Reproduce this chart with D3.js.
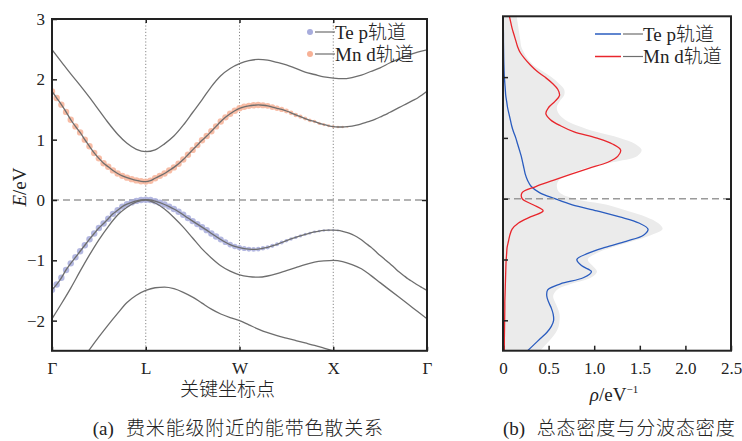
<!DOCTYPE html>
<html lang="zh">
<head>
<meta charset="UTF-8" />
<title>能带色散与态密度</title>
<style>
  html, body { margin: 0; background: #fff; }
  svg text { font-family: "Liberation Serif", "Noto Sans CJK SC", serif; fill: #222; }
</style>
</head>
<body>
<svg id="chart" width="742" height="441"></svg>
<script src="https://cdn.jsdelivr.net/npm/d3@7"></script>
<script>
// ---- (a) band structure data, k path Γ-L-W-X-Γ (0..4) ----
const kLabels = ["Γ", "L", "W", "X", "Γ"];
const kFine = d3.range(81).map(i => i * 0.05);
const kCoarse = d3.range(41).map(i => i * 0.1);

const bandTop = [2.49, 2.29, 2.09, 1.90, 1.70, 1.49, 1.28, 1.09, 0.94, 0.84,
  0.80, 0.83, 0.93, 1.06, 1.24, 1.45, 1.66, 1.88, 2.06, 2.18,
  2.26, 2.31, 2.33, 2.32, 2.28, 2.24, 2.18, 2.12, 2.08, 2.04,
  2.02, 2.01, 2.03, 2.07, 2.13, 2.19, 2.27, 2.34, 2.40, 2.45, 2.49];

// Mn d projected band
const bandMn = [1.80, 1.69, 1.58, 1.46, 1.33, 1.22, 1.12, 1.00, 0.89, 0.78,
  0.69, 0.61, 0.55, 0.49, 0.44, 0.40, 0.37, 0.345, 0.325, 0.31,
  0.305, 0.32, 0.36, 0.40, 0.44, 0.49, 0.54, 0.60, 0.67, 0.75,
  0.83, 0.91, 0.99, 1.06, 1.14, 1.22, 1.30, 1.37, 1.43, 1.48,
  1.52, 1.545, 1.56, 1.57, 1.575, 1.57, 1.56, 1.54, 1.52, 1.50,
  1.475, 1.445, 1.41, 1.38, 1.35, 1.32, 1.30, 1.27, 1.25, 1.23,
  1.215, 1.21, 1.21, 1.215, 1.225, 1.24, 1.26, 1.285, 1.31, 1.34,
  1.375, 1.41, 1.45, 1.49, 1.53, 1.57, 1.61, 1.65, 1.69, 1.745, 1.80];
const mnWeight = [1, 1, 1, 1, 1, 1, 1, 1, 1, 1,
  1, 1, 1, 1, 1, 1, 1, 1, 1, 1,
  1, 1, 1, 1, 1, 1, 1, 1, 1, 1,
  1, 1, 1, 1, 1, 1, 1, 1, 1, 1,
  1, 1, 1, 1, 1, 0.97, 0.93, 0.9, 0.86, 0.82,
  0.78, 0.74, 0.7, 0.66, 0.62, 0.58, 0.55, 0.52, 0.49, 0.46,
  0.44, 0.42, 0.4, 0.3, 0, 0, 0, 0, 0, 0,
  0, 0, 0, 0, 0, 0, 0, 0, 0, 0, 0];

// Te p projected band
const bandTe = [-1.49, -1.40, -1.29, -1.16, -1.05, -0.95, -0.85, -0.75, -0.65, -0.555,
  -0.465, -0.39, -0.31, -0.23, -0.17, -0.11, -0.07, -0.04, -0.015, 0.0,
  0.005, 0.0, -0.02, -0.045, -0.075, -0.11, -0.15, -0.195, -0.245, -0.30,
  -0.35, -0.40, -0.45, -0.50, -0.555, -0.605, -0.655, -0.70, -0.74, -0.77,
  -0.79, -0.805, -0.815, -0.82, -0.815, -0.80, -0.785, -0.76, -0.735, -0.705,
  -0.675, -0.645, -0.62, -0.595, -0.57, -0.55, -0.53, -0.515, -0.505, -0.50,
  -0.50, -0.505, -0.52, -0.54, -0.57, -0.61, -0.66, -0.72, -0.78, -0.85,
  -0.92, -0.985, -1.05, -1.12, -1.19, -1.25, -1.31, -1.36, -1.41, -1.455, -1.50];
const teWeight = [1, 1, 1, 1, 1, 1, 1, 1, 1, 1,
  1, 1, 1, 1, 1, 1, 1, 1, 1, 1,
  1, 1, 1, 1, 1, 1, 1, 1, 1, 1,
  1, 1, 1, 1, 1, 1, 0.95, 0.9, 0.88, 0.85,
  0.82, 0.8, 0.78, 0.75, 0.72, 0.7, 0.67, 0.65, 0.62, 0.6,
  0.57, 0.55, 0.52, 0.5, 0.48, 0.46, 0.44, 0.42, 0.4, 0.38,
  0.36, 0.3, 0.2, 0, 0, 0, 0, 0, 0, 0,
  0, 0, 0, 0, 0, 0, 0, 0, 0, 0, 0];

const bandV2 = [-1.97, -1.72, -1.46, -1.18, -0.91, -0.66, -0.44, -0.25, -0.12, -0.03,
  0.0, -0.05, -0.15, -0.29, -0.45, -0.63, -0.81, -0.96, -1.09, -1.18,
  -1.24, -1.27, -1.28, -1.26, -1.22, -1.17, -1.12, -1.07, -1.03, -1.01,
  -1.0, -1.02, -1.07, -1.14, -1.25, -1.37, -1.49, -1.61, -1.73, -1.85, -1.97];

// lowest band, only Γ..X (below the window elsewhere)
const bandV3 = [-3.4, -3.15, -2.92, -2.70, -2.48, -2.27, -2.07, -1.88, -1.70, -1.58,
  -1.50, -1.455, -1.445, -1.47, -1.53, -1.61, -1.71, -1.81, -1.89, -1.95,
  -2.0, -2.07, -2.14, -2.2, -2.25, -2.29, -2.33, -2.37, -2.41, -2.455, -2.5];

// ---- (b) density of states, E from -2.5 to 3.0 step 0.1 ----
const dosE = d3.range(56).map(i => -2.5 + i * 0.1);
const dosTotal = [0.41, 0.47, 0.53, 0.58, 0.61, 0.62, 0.62, 0.60, 0.57, 0.55,
  0.59, 0.75, 0.96, 1.03, 0.98, 0.93, 1.02, 1.20, 1.42, 1.62,
  1.75, 1.70, 1.57, 1.36, 1.14, 0.78, 0.62, 0.59, 0.61, 0.72,
  0.90, 1.20, 1.47, 1.52, 1.45, 1.28, 1.02, 0.82, 0.68, 0.61,
  0.59, 0.62, 0.67, 0.67, 0.61, 0.53, 0.43, 0.33, 0.27, 0.23,
  0.20, 0.19, 0.18, 0.17, 0.16, 0.15];
const dosTe = [0.27, 0.34, 0.41, 0.48, 0.53, 0.555, 0.55, 0.53, 0.50, 0.48,
  0.49, 0.63, 0.88, 0.97, 0.86, 0.81, 0.93, 1.12, 1.35, 1.54,
  1.59, 1.49, 1.28, 1.03, 0.76, 0.57, 0.40, 0.31, 0.27, 0.245,
  0.23, 0.215, 0.20, 0.18, 0.16, 0.14, 0.115, 0.095, 0.08, 0.065,
  0.05, 0.04, 0.03, 0.025, 0.02, 0.015, 0.012, 0.01, 0.008, 0.007,
  0.006, 0.005, 0.005, 0.004, 0.004, 0.004];
const dosMn = [0.015, 0.015, 0.015, 0.016, 0.017, 0.018, 0.019, 0.02, 0.02, 0.022,
  0.024, 0.026, 0.028, 0.03, 0.032, 0.035, 0.04, 0.045, 0.06, 0.075,
  0.10, 0.17, 0.30, 0.44, 0.33, 0.21, 0.21, 0.36, 0.55, 0.74,
  0.94, 1.15, 1.26, 1.29, 1.20, 1.02, 0.78, 0.63, 0.52, 0.47,
  0.50, 0.57, 0.62, 0.60, 0.54, 0.46, 0.37, 0.30, 0.24, 0.19,
  0.16, 0.14, 0.12, 0.10, 0.085, 0.07];

const grayLine = "#6e6e6e";
const teColor = "#a7acdc";
const mnColor = "#f7b196";
const blue = "#2a5cbf";
const red = "#e8262c";

const svg = d3.select("#chart");

// ================= (a) =================
const xa = d3.scaleLinear().domain([0, 4]).range([52, 427]);
const ya = d3.scaleLinear().domain([-2.5, 3]).range([350.8, 19]);

svg.append("clipPath").attr("id", "clipA")
  .append("rect").attr("x", 52).attr("y", 19).attr("width", 375).attr("height", 331.8);

const ga = svg.append("g");

ga.selectAll(".vline").data([1, 2, 3]).join("line")
  .attr("x1", d => xa(d)).attr("x2", d => xa(d))
  .attr("y1", ya(3)).attr("y2", ya(-2.5))
  .attr("stroke", "#888").attr("stroke-width", 1).attr("stroke-dasharray", "1.2,2");

ga.append("line")
  .attr("x1", xa(0)).attr("x2", xa(4)).attr("y1", ya(0)).attr("y2", ya(0))
  .attr("stroke", "#9a9a9a").attr("stroke-width", 1.5).attr("stroke-dasharray", "7,4");

const plotA = ga.append("g").attr("clip-path", "url(#clipA)");

const dotsMn = kFine.map((k, i) => ({ k, e: bandMn[i], w: mnWeight[i] })).filter(d => d.w > 0);
const dotsTe = kFine.map((k, i) => ({ k, e: bandTe[i], w: teWeight[i] })).filter(d => d.w > 0);

plotA.selectAll(".mn").data(dotsMn).join("circle")
  .attr("cx", d => xa(d.k)).attr("cy", d => ya(d.e)).attr("r", d => 3.2 * d.w)
  .attr("fill", mnColor).attr("fill-opacity", 0.85);
plotA.selectAll(".te").data(dotsTe).join("circle")
  .attr("cx", d => xa(d.k)).attr("cy", d => ya(d.e)).attr("r", d => 3.2 * d.w)
  .attr("fill", teColor).attr("fill-opacity", 0.85);

const bandLine = d3.line().x(d => xa(d[0])).y(d => ya(d[1])).curve(d3.curveMonotoneX);
const bands = [
  kCoarse.map((k, i) => [k, bandTop[i]]),
  kFine.map((k, i) => [k, bandMn[i]]),
  kFine.map((k, i) => [k, bandTe[i]]),
  kCoarse.map((k, i) => [k, bandV2[i]]),
  bandV3.map((e, i) => [kCoarse[i], e])
];
plotA.selectAll(".band").data(bands).join("path")
  .attr("d", bandLine).attr("fill", "none")
  .attr("stroke", grayLine).attr("stroke-width", 1.3);

// axes (a)
const axA = svg.append("g");
axA.append("g").attr("transform", `translate(${xa(0)},0)`)
  .call(d3.axisLeft(ya).tickValues([-2, -1, 0, 1, 2, 3]).tickSize(-5).tickPadding(7)
    .tickFormat(d3.format("d")))
  .call(g => g.select(".domain").remove());
axA.append("g").attr("transform", `translate(0,${ya(-2.5)})`)
  .call(d3.axisBottom(xa).tickValues([0, 1, 2, 3, 4]).tickSize(-4).tickPadding(11)
    .tickFormat((d, i) => kLabels[i]))
  .call(g => g.select(".domain").remove());
axA.append("g").attr("transform", `translate(0,${ya(3)})`)
  .call(d3.axisTop(xa).tickValues([1, 2, 3]).tickSize(-4).tickFormat(""))
  .call(g => g.select(".domain").remove());
axA.append("g").attr("transform", `translate(${xa(4)},0)`)
  .call(d3.axisRight(ya).tickValues([0]).tickSize(-5).tickFormat(""))
  .call(g => g.select(".domain").remove());
axA.selectAll(".tick line").attr("stroke", "#222").attr("stroke-width", 1.5);
axA.selectAll("text").attr("font-size", 17).attr("fill", "#222");

axA.append("rect").attr("x", xa(0)).attr("y", ya(3))
  .attr("width", xa(4) - xa(0)).attr("height", ya(-2.5) - ya(3))
  .attr("fill", "none").attr("stroke", "#222").attr("stroke-width", 2);

svg.append("text").attr("transform", "translate(26,187) rotate(-90)")
  .attr("text-anchor", "middle").attr("font-size", 19)
  .call(t => {
    t.append("tspan").attr("font-style", "italic").text("E");
    t.append("tspan").text("/eV");
  });
svg.append("text").attr("x", 227.5).attr("y", 396).attr("text-anchor", "middle")
  .attr("font-size", 19).attr("font-weight", 300).text("关键坐标点");

// legend (a)
const legA = [
  { name: "Te p轨道", color: teColor, y: 32 },
  { name: "Mn d轨道", color: mnColor, y: 54 }
];
const lga = svg.append("g").selectAll("g").data(legA).join("g");
lga.append("circle").attr("cx", 310).attr("cy", d => d.y).attr("r", 3).attr("fill", d => d.color);
lga.append("line").attr("x1", 315).attr("x2", 335).attr("y1", d => d.y).attr("y2", d => d.y)
  .attr("stroke", grayLine).attr("stroke-width", 1.2);
lga.append("text").attr("x", 335).attr("y", d => d.y + 6.5).attr("font-size", 19)
  .attr("font-weight", 300).text(d => d.name);

// ================= (b) =================
const xb = d3.scaleLinear().domain([0, 2.5]).range([503, 731]);
const yb = d3.scaleLinear().domain([-2.5, 3]).range([350.7, 16.3]);

svg.append("clipPath").attr("id", "clipB")
  .append("rect").attr("x", 503).attr("y", 16.3).attr("width", 228).attr("height", 334.4);

const gb = svg.append("g").attr("clip-path", "url(#clipB)");
const dos = dosE.map((e, i) => ({ e, tot: dosTotal[i], te: dosTe[i], mn: dosMn[i] }));

gb.append("path").datum(dos)
  .attr("d", d3.area().curve(d3.curveCatmullRom)
    .y(d => yb(d.e)).x0(xb(0)).x1(d => xb(d.tot)))
  .attr("fill", "#ebebeb");

svg.append("line")
  .attr("x1", xb(0)).attr("x2", xb(2.5)).attr("y1", yb(0)).attr("y2", yb(0))
  .attr("stroke", "#9a9a9a").attr("stroke-width", 1.5).attr("stroke-dasharray", "7,4");

const dosLine = key => d3.line().curve(d3.curveCatmullRom)
  .x(d => xb(d[key])).y(d => yb(d.e));
gb.append("path").datum(dos).attr("d", dosLine("te"))
  .attr("fill", "none").attr("stroke", blue).attr("stroke-width", 1.3);
gb.append("path").datum(dos).attr("d", dosLine("mn"))
  .attr("fill", "none").attr("stroke", red).attr("stroke-width", 1.3);

const axB = svg.append("g");
axB.append("g").attr("transform", `translate(0,${yb(-2.5)})`)
  .call(d3.axisBottom(xb).tickValues([0, 0.5, 1, 1.5, 2, 2.5]).tickSize(-5).tickPadding(11)
    .tickFormat(d => d === 0 ? "0" : d3.format(".1f")(d)))
  .call(g => g.select(".domain").remove());
axB.append("g").attr("transform", `translate(${xb(0)},0)`)
  .call(d3.axisLeft(yb).tickValues([-2, -1, 0, 1, 2]).tickSize(-5).tickFormat(""))
  .call(g => g.select(".domain").remove());
axB.append("g").attr("transform", `translate(${xb(2.5)},0)`)
  .call(d3.axisRight(yb).tickValues([0]).tickSize(-5).tickFormat(""))
  .call(g => g.select(".domain").remove());
axB.selectAll(".tick line").attr("stroke", "#222").attr("stroke-width", 1.5);
axB.selectAll("text").attr("font-size", 17).attr("fill", "#222");

axB.append("rect").attr("x", xb(0)).attr("y", yb(3))
  .attr("width", xb(2.5) - xb(0)).attr("height", yb(-2.5) - yb(3))
  .attr("fill", "none").attr("stroke", "#222").attr("stroke-width", 2);

svg.append("text").attr("x", 614).attr("y", 401).attr("text-anchor", "middle")
  .attr("font-size", 19)
  .call(t => {
    t.append("tspan").attr("font-style", "italic").text("ρ");
    t.append("tspan").text("/eV");
    t.append("tspan").attr("font-size", 11).attr("dy", -8).text("−1");
  });

// legend (b)
const legB = [
  { name: "Te p轨道", color: blue, y: 34 },
  { name: "Mn d轨道", color: red, y: 56.5 }
];
const lgb = svg.append("g").selectAll("g").data(legB).join("g");
lgb.append("line").attr("x1", 595).attr("x2", 621).attr("y1", d => d.y).attr("y2", d => d.y)
  .attr("stroke", d => d.color).attr("stroke-width", 1.5);
lgb.append("line").attr("x1", 623).attr("x2", 643).attr("y1", d => d.y).attr("y2", d => d.y)
  .attr("stroke", grayLine).attr("stroke-width", 1.2);
lgb.append("text").attr("x", 643).attr("y", d => d.y + 6.5).attr("font-size", 19)
  .attr("font-weight", 300).text(d => d.name);

// captions
svg.append("text").attr("x", 92.7).attr("y", 435).attr("font-size", 19).text("(a)");
svg.append("text").attr("x", 126).attr("y", 435).attr("font-size", 19).attr("font-weight", 300)
  .attr("textLength", 257).text("费米能级附近的能带色散关系");
svg.append("text").attr("x", 503).attr("y", 435).attr("font-size", 19).text("(b)");
svg.append("text").attr("x", 536.7).attr("y", 435).attr("font-size", 19).attr("font-weight", 300)
  .attr("textLength", 198).text("总态密度与分波态密度");
</script>
</body>
</html>
